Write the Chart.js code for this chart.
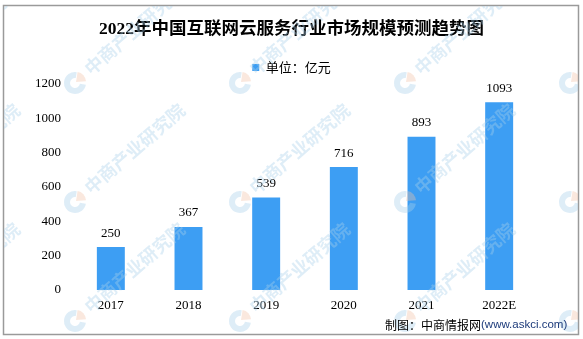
<!DOCTYPE html>
<html><head><meta charset="utf-8">
<script src="https://cdn.jsdelivr.net/npm/chart.js"></script>
<style>html,body{margin:0;padding:0;background:#fff;overflow:hidden}#wrap{width:583px;height:339px}</style>
</head><body><div id="wrap"><canvas id="c" width="583" height="339"></canvas></div>
<script>
const categories = ['2017', '2018', '2019', '2020', '2021', '2022E'];
const marketSize = [250, 367, 539, 716, 893, 1093];
const yTickValues = [0, 200, 400, 600, 800, 1000, 1200];
const titleText = '2022年中国互联网云服务行业市场规模预测趋势图';
const seriesName = '单位：亿元';
const sourceMain = '制图：中商情报网';
const sourceUrl = '(www.askci.com)';
const watermarkText = '中商产业研究院';

const serif = "'Liberation Serif','Noto Sans CJK SC'";
const sans = "'Noto Sans CJK SC','Liberation Sans'";
const barColor = '#3d9ef3';

const framePlugin = {
  id: 'frame',
  beforeDraw(chart) {
    const ctx = chart.ctx;
    ctx.save();
    ctx.fillStyle = '#fff';
    ctx.fillRect(0, 0, chart.width, chart.height);
    ctx.strokeStyle = '#9a9a9a';
    ctx.lineWidth = 1.5;
    ctx.strokeRect(3.5, 5.5, 575, 329);
    ctx.restore();
  }
};

const valueLabelPlugin = {
  id: 'valueLabels',
  afterDatasetsDraw(chart) {
    const ctx = chart.ctx;
    const meta = chart.getDatasetMeta(0);
    ctx.save();
    ctx.font = '13px ' + serif;
    ctx.fillStyle = '#000';
    ctx.textAlign = 'center';
    ctx.textBaseline = 'middle';
    meta.data.forEach((bar, i) => {
      ctx.fillText(String(chart.data.datasets[0].data[i]), bar.x, bar.y - 14);
    });
    ctx.restore();
  }
};

const watermarkPlugin = {
  id: 'watermark',
  afterDraw(chart) {
    const ctx = chart.ctx;
    const cols = [-90, 75, 240, 405, 570];
    const rows = [-36, 83, 202, 321];
    ctx.save();
    ctx.beginPath();
    ctx.rect(4, 6, 574, 328);
    ctx.clip();
    ctx.globalAlpha = 0.38;
    rows.forEach(y => cols.forEach(x => {
      ctx.lineWidth = 6;
      ctx.strokeStyle = '#a9cfea';
      ctx.beginPath();
      ctx.arc(x, y, 8, Math.PI * 0.05, Math.PI * 1.55);
      ctx.stroke();
      ctx.fillStyle = '#f3c2a8';
      ctx.beginPath();
      ctx.moveTo(x + 1, y - 1);
      ctx.arc(x + 1, y - 1, 10, -Math.PI * 0.45, -Math.PI * 0.02);
      ctx.closePath();
      ctx.fill();
      ctx.save();
      ctx.translate(x + 12, y - 12);
      ctx.rotate(-41 * Math.PI / 180);
      ctx.font = 'bold 18px ' + sans;
      ctx.fillStyle = '#a9cfea';
      ctx.textBaseline = 'middle';
      ctx.textAlign = 'left';
      ctx.fillText(watermarkText, 0, 0);
      ctx.restore();
    }));
    ctx.restore();
  }
};

const footerPlugin = {
  id: 'footer',
  afterDraw(chart) {
    const ctx = chart.ctx;
    ctx.save();
    ctx.textBaseline = 'middle';
    ctx.textAlign = 'left';
    ctx.font = '12px ' + sans;
    ctx.fillStyle = '#000';
    const x0 = 385;
    ctx.fillText(sourceMain, x0, 325);
    const w = ctx.measureText(sourceMain).width;
    ctx.font = '11.5px ' + "'Liberation Sans','Noto Sans CJK SC'";
    ctx.fillStyle = '#1c3a7a';
    ctx.fillText(sourceUrl, x0 + w, 325);
    ctx.restore();
  }
};

new Chart(document.getElementById('c'), {
  type: 'bar',
  data: {
    labels: categories,
    datasets: [{
      label: seriesName,
      data: marketSize,
      backgroundColor: barColor,
      borderWidth: 0,
      categoryPercentage: 1,
      barPercentage: 0.36
    }]
  },
  options: {
    responsive: false,
    animation: false,
    devicePixelRatio: 1,
    layout: { padding: { left: 0, right: 0, top: 0, bottom: 19 } },
    plugins: {
      title: {
        display: true,
        text: titleText,
        color: '#000',
        font: { family: serif, size: 17.5, weight: 'bold' },
        padding: { top: 19, bottom: 11 }
      },
      legend: {
        display: true,
        position: 'top',
        labels: {
          color: '#000',
          font: { family: sans, size: 13 },
          boxWidth: 7,
          boxHeight: 7,
          padding: 10
        }
      },
      tooltip: { enabled: false }
    },
    scales: {
      x: {
        grid: { display: false, drawTicks: false },
        border: { display: false },
        ticks: { color: '#000', font: { family: serif, size: 13 }, padding: 8 },
        afterFit(s) { s.height = 30; }
      },
      y: {
        min: 0,
        max: 1200,
        grid: { display: false, drawTicks: false },
        border: { display: false },
        afterBuildTicks(s) { s.ticks = yTickValues.map(v => ({ value: v })); },
        ticks: { color: '#000', font: { family: serif, size: 13 }, padding: 11, callback: v => String(v) },
        afterFit(s) { s.width = 72; }
      },
      yRight: {
        position: 'right',
        min: 0,
        max: 1200,
        grid: { display: false, drawTicks: false },
        border: { display: false },
        ticks: { display: false },
        afterFit(s) { s.width = 45; }
      }
    }
  },
  plugins: [framePlugin, valueLabelPlugin, watermarkPlugin, footerPlugin]
});
</script>
</body></html>
